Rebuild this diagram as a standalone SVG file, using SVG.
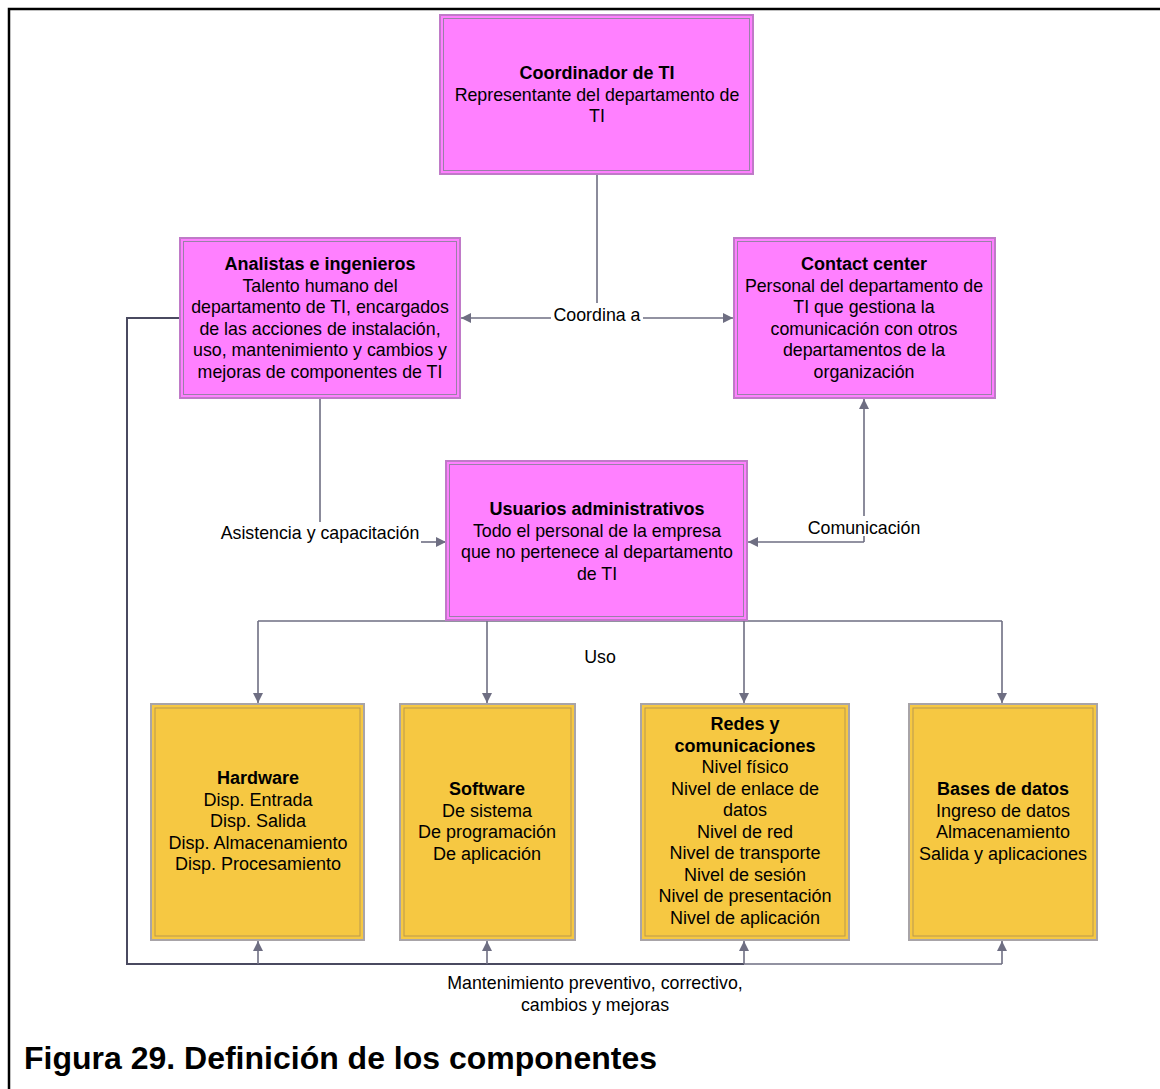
<svg xmlns="http://www.w3.org/2000/svg" width="1160" height="1089" viewBox="0 0 1160 1089">
<style>
text{font-family:"Liberation Sans",Arial,sans-serif;fill:#000;text-anchor:middle}
.t{font-size:17.8px}
.y{font-size:18px}
.b{font-weight:bold;font-size:18px}
.l{font-size:17.8px}
.s{font-size:17.8px}
.mo{fill:#ff80ff;stroke:#c07ac8;stroke-width:2}
.mi{fill:none;stroke:#9a80a8;stroke-width:1}
.yo{fill:#f6c842;stroke:#a8a4a8;stroke-width:2}
.yi{fill:none;stroke:#b89850;stroke-width:1}
.c{fill:none;stroke:#6e6e82;stroke-width:1.6}
.cd{fill:none;stroke:#4a4a60;stroke-width:2}
.bg{fill:#fff}
</style>
<defs>
<marker id="a" viewBox="0 0 10 10" refX="10" refY="5" markerWidth="10" markerHeight="10" markerUnits="userSpaceOnUse" orient="auto-start-reverse">
<path d="M0,0 L10,5 L0,10 Z" fill="#6e6e82"/>
</marker>
</defs>
<rect width="1160" height="1089" fill="#fff"/>
<path d="M9,1089 V9 H1160" fill="none" stroke="#000" stroke-width="2.5"/>

<g id="connectors">
<path class="c" d="M597,174 V303"/>
<path class="c" d="M461,318 H733" marker-start="url(#a)" marker-end="url(#a)"/>
<path class="c" d="M320,398 V522"/>
<path class="c" d="M421,542 H446" marker-end="url(#a)"/>
<path class="c" d="M864,542 H748" marker-end="url(#a)"/>
<path class="c" d="M864,542 V399" marker-end="url(#a)"/>
<path class="c" d="M258,621 H1002"/>
<path class="c" d="M258,621 V703" marker-end="url(#a)"/>
<path class="c" d="M487,621 V703" marker-end="url(#a)"/>
<path class="c" d="M744,621 V703" marker-end="url(#a)"/>
<path class="c" d="M1002,621 V703" marker-end="url(#a)"/>
<path class="cd" d="M180,318 H127 V964 H744"/>
<path class="c" d="M744,964 H1002"/>
<path class="c" d="M258,964 V941" marker-end="url(#a)"/>
<path class="c" d="M487,964 V941" marker-end="url(#a)"/>
<path class="c" d="M744,964 V941" marker-end="url(#a)"/>
<path class="c" d="M1002,964 V941" marker-end="url(#a)"/>
<rect class="bg" x="551" y="306" width="92" height="20"/>
<text class="l" x="597" y="321">Coordina a</text>
<text class="l" x="320" y="539">Asistencia y capacitación</text>
<rect class="bg" x="806" y="516" width="116" height="20"/>
<text class="l" x="864" y="534">Comunicación</text>
<text class="l" x="600" y="663">Uso</text>
<text class="s" x="595" y="989">Mantenimiento preventivo, correctivo,</text>
<text class="s" x="595" y="1011">cambios y mejoras</text>
</g>

<g id="coordinador">
<rect class="mo" x="440" y="15" width="313" height="159"/>
<rect class="mi" x="443.5" y="18.5" width="306" height="152"/>
<text class="b" x="597" y="79">Coordinador de TI</text>
<text class="t" x="597" y="100.5">Representante del departamento de</text>
<text class="t" x="597" y="122">TI</text>
</g>

<g id="analistas">
<rect class="mo" x="180" y="238" width="280" height="160"/>
<rect class="mi" x="183.5" y="241.5" width="273" height="153"/>
<text class="b" x="320" y="270">Analistas e ingenieros</text>
<text class="t" x="320" y="291.5">Talento humano del</text>
<text class="t" x="320" y="313">departamento de TI, encargados</text>
<text class="t" x="320" y="334.5">de las acciones de instalación,</text>
<text class="t" x="320" y="356">uso, mantenimiento y cambios y</text>
<text class="t" x="320" y="377.5">mejoras de componentes de TI</text>
</g>

<g id="contact">
<rect class="mo" x="734" y="238" width="261" height="160"/>
<rect class="mi" x="737.5" y="241.5" width="254" height="153"/>
<text class="b" x="864" y="270">Contact center</text>
<text class="t" x="864" y="291.5">Personal del departamento de</text>
<text class="t" x="864" y="313">TI que gestiona la</text>
<text class="t" x="864" y="334.5">comunicación con otros</text>
<text class="t" x="864" y="356">departamentos de la</text>
<text class="t" x="864" y="377.5">organización</text>
</g>

<g id="usuarios">
<rect class="mo" x="446" y="461" width="301" height="159"/>
<rect class="mi" x="449.5" y="464.5" width="294" height="152"/>
<text class="b" x="597" y="515">Usuarios administrativos</text>
<text class="t" x="597" y="536.5">Todo el personal de la empresa</text>
<text class="t" x="597" y="558">que no pertenece al departamento</text>
<text class="t" x="597" y="579.5">de TI</text>
</g>

<g id="hardware">
<rect class="yo" x="151" y="704" width="213" height="236"/>
<rect class="yi" x="155" y="708" width="205" height="228"/>
<text class="b" x="258" y="784">Hardware</text>
<text class="y" x="258" y="805.5">Disp. Entrada</text>
<text class="y" x="258" y="827">Disp. Salida</text>
<text class="y" x="258" y="848.5">Disp. Almacenamiento</text>
<text class="y" x="258" y="870">Disp. Procesamiento</text>
</g>

<g id="software">
<rect class="yo" x="400" y="704" width="175" height="236"/>
<rect class="yi" x="404" y="708" width="167" height="228"/>
<text class="b" x="487" y="795">Software</text>
<text class="y" x="487" y="816.5">De sistema</text>
<text class="y" x="487" y="838">De programación</text>
<text class="y" x="487" y="859.5">De aplicación</text>
</g>

<g id="redes">
<rect class="yo" x="641" y="704" width="208" height="236"/>
<rect class="yi" x="645" y="708" width="200" height="228"/>
<text class="b" x="745" y="730">Redes y</text>
<text class="b" x="745" y="751.5">comunicaciones</text>
<text class="y" x="745" y="773">Nivel físico</text>
<text class="y" x="745" y="794.5">Nivel de enlace de</text>
<text class="y" x="745" y="816">datos</text>
<text class="y" x="745" y="837.5">Nivel de red</text>
<text class="y" x="745" y="859">Nivel de transporte</text>
<text class="y" x="745" y="880.5">Nivel de sesión</text>
<text class="y" x="745" y="902">Nivel de presentación</text>
<text class="y" x="745" y="923.5">Nivel de aplicación</text>
</g>

<g id="bases">
<rect class="yo" x="909" y="704" width="188" height="236"/>
<rect class="yi" x="913" y="708" width="180" height="228"/>
<text class="b" x="1003" y="795">Bases de datos</text>
<text class="y" x="1003" y="816.5">Ingreso de datos</text>
<text class="y" x="1003" y="838">Almacenamiento</text>
<text class="y" x="1003" y="859.5">Salida y aplicaciones</text>
</g>

<text x="24" y="1069" style="font-size:32px;font-weight:bold;text-anchor:start">Figura 29. Definición de los componentes</text>
</svg>
